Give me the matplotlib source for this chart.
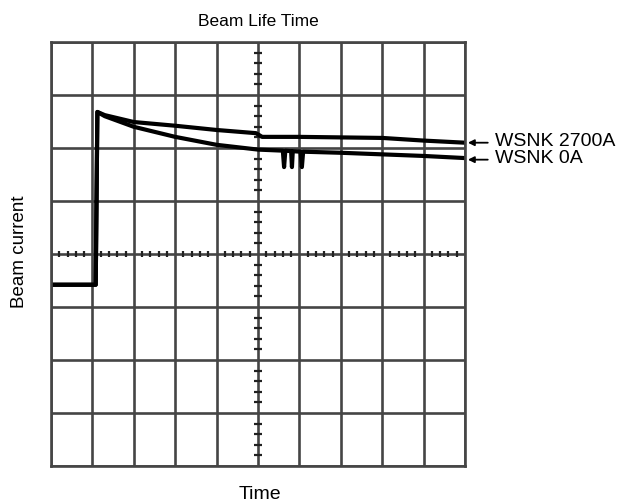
import matplotlib
matplotlib.use("Agg")
import matplotlib.pyplot as plt
import numpy as np

plt.rcParams['font.family'] = ['Liberation Sans', 'DejaVu Sans']

# Trace readings (screen divisions: x 0..10, y 0..8)
x_2700 = [0, 1.08, 1.12, 1.3, 2, 3, 4, 4.95, 5.1, 6, 7, 8, 9, 10]
y_2700 = [3.42, 3.42, 6.68, 6.62, 6.49, 6.42, 6.34, 6.28, 6.21, 6.21, 6.20, 6.19, 6.14, 6.10]

x_0a = [0, 1.08, 1.12, 1.3, 2, 3, 4, 5, 5.6, 5.63, 5.66, 5.8, 5.82, 5.84,
        6.03, 6.06, 6.09, 7, 8, 9, 10]
y_0a = [3.42, 3.42, 6.68, 6.60, 6.40, 6.21, 6.06, 5.97, 5.95, 5.64, 5.95, 5.94, 5.64, 5.94,
        5.93, 5.64, 5.93, 5.91, 5.88, 5.85, 5.81]

labels = ["WSNK 2700A", "WSNK 0A"]
label_y = [6.12, 5.80]

grid_col = '#454545'

fig = plt.figure(figsize=(6.17, 5.04), dpi=100)
ax = fig.add_axes([51/617, 38/504, 414/617, 424/504])
ax.set_xlim(0, 10)
ax.set_ylim(0, 8)
ax.set_xticks(range(11))
ax.set_yticks(range(9))
ax.tick_params(length=0, labelbottom=False, labelleft=False)
ax.grid(True, color=grid_col, linewidth=1.9)
for s in ax.spines.values():
    s.set_color(grid_col)
    s.set_linewidth(1.9)

# center cross minor ticks
minor_x = [i / 5 for i in range(51) if i % 5 != 0]
minor_y = [i / 5 for i in range(41) if i % 5 != 0]
ax.vlines(minor_x, 4 - 0.06, 4 + 0.06, color='#222222', linewidth=1.6)
ax.hlines(minor_y, 5 - 0.085, 5 + 0.085, color='#222222', linewidth=1.6)

ax.plot(x_2700, y_2700, color='black', linewidth=3.0, solid_joinstyle='round')
ax.plot(x_0a, y_0a, color='black', linewidth=3.0, solid_joinstyle='round')

for lab, ly in zip(labels, label_y):
    ax.annotate('', xy=(10.07, ly - 0.02), xytext=(10.55, ly - 0.02),
                arrowprops=dict(arrowstyle='-|>', color='black', lw=1.3,
                                mutation_scale=9, shrinkA=0, shrinkB=0),
                annotation_clip=False)
    ax.text(10.72, ly, lab, ha='left', va='center', fontsize=14, clip_on=False)

fig.text(258/617, 1 - 26/504, "Beam Life Time", ha='center', va='baseline', fontsize=12.5)
fig.text(260/617, 5/504, "Time", ha='center', va='baseline', fontsize=14)
fig.text(20/617, 0.5, "Beam current", ha='center', va='center', rotation=90, fontsize=13.5)

fig.savefig("out.png", dpi=100)
